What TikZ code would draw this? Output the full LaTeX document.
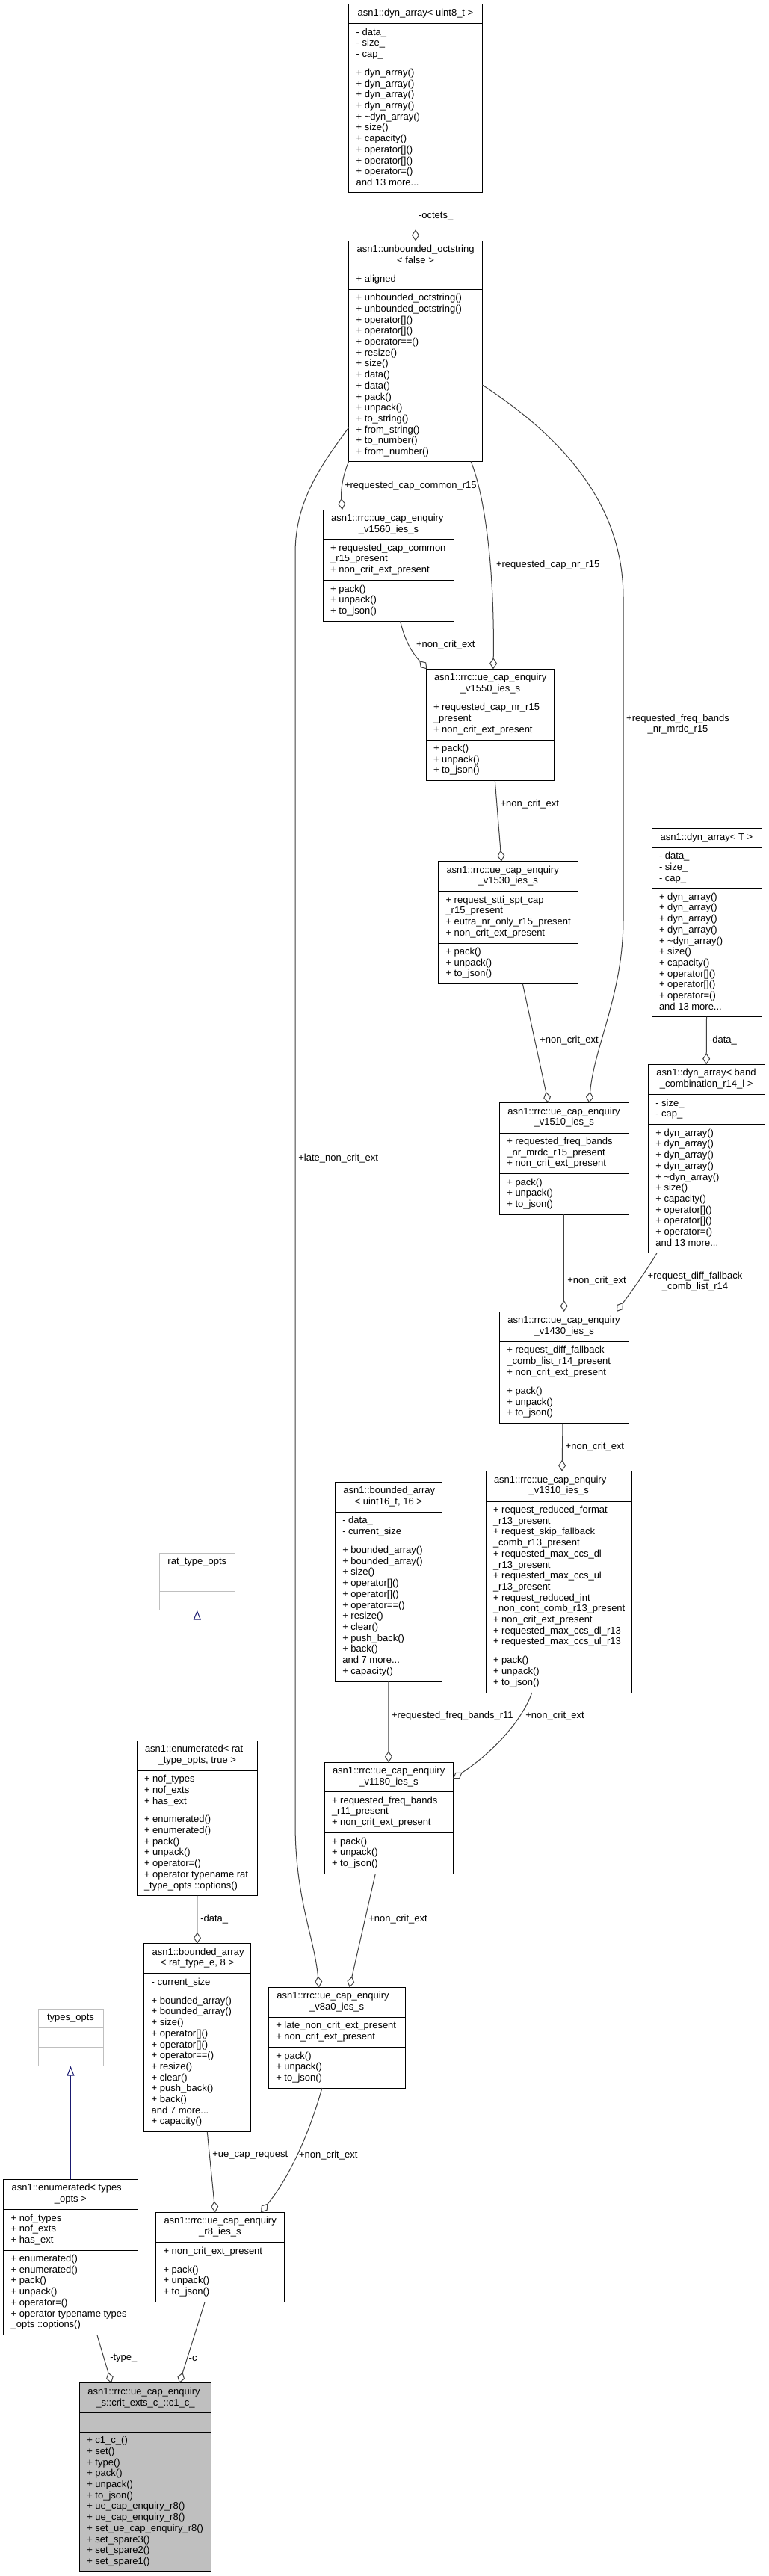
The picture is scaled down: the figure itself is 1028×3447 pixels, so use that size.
\documentclass[tikz,border=0pt]{standalone}
\usepackage{fontspec}
\setmainfont{Liberation Sans}
\usetikzlibrary{arrows.meta,calc}
\definecolor{edgegray}{HTML}{404040}
\definecolor{navyline}{HTML}{191970}
\definecolor{boxgray}{HTML}{BFBFBF}
\definecolor{lightborder}{HTML}{BFBFBF}
\tikzset{
  clsbox/.style={draw=black,fill=white,line width=1pt,inner sep=0pt,outer sep=0pt,anchor=north west},
  divline/.style={draw=black,line width=1pt},
  txt/.style={inner sep=0pt,outer sep=0pt,font=\fontsize{13pt}{14.7pt}\selectfont,align=left},
  agg/.style={draw=edgegray,line width=1pt,-{Diamond[open,length=15pt,width=10pt]}},
  inh/.style={draw=navyline,line width=1pt,-{Triangle[open,length=13pt,width=10pt]}},
  elabel/.style={txt,anchor=west},
}
% \cls{name}(L,T,R,B,headerBottom,attrBottom){header line 1}{header line 2}{attrs}{methods}{style}
\def\cls#1(#2,#3,#4,#5,#6,#7)#8#9{%
  \def\cN{#1}\def\cL{#2}\def\cT{#3}\def\cR{#4}\def\cB{#5}\def\cH{#6}\def\cA{#7}%
  \def\cHa{#8}\def\cHb{#9}\clsrest}
\def\clsrest#1#2#3{%
  \node[clsbox,#3,minimum width={(\cR-\cL)*1pt},minimum height={(\cB-\cT)*1pt}] (\cN) at (\cL,\cT) {};
  \draw[divline,#3] (\cL,\cH) -- (\cR,\cH);
  \draw[divline,#3] (\cL,\cA) -- (\cR,\cA);
  \ifx\cHb\empty
    \node[txt,anchor=north] at ({(\cL+\cR)/2},\cT+5.2) {\strut\cHa};
  \else
    \node[txt,anchor=north west] at (\cL+11,\cT+5.2) {\strut\cHa};
    \node[txt,anchor=north] at ({(\cL+\cR)/2},\cT+19.9) {\strut\cHb};
  \fi
  \node[txt,anchor=north west] at (\cL+10,\cH+5.2) {\strut#1};
  \node[txt,anchor=north west] at (\cL+10,\cA+5.2) {\strut#2};
}
\def\dynmethods{+ dyn\_array()\\+ dyn\_array()\\+ dyn\_array()\\+ dyn\_array()\\+ \textasciitilde dyn\_array()\\+ size()\\+ capacity()\\+ operator[]()\\+ operator[]()\\+ operator=()\\and 13 more...}
\def\bamethods{+ bounded\_array()\\+ bounded\_array()\\+ size()\\+ operator[]()\\+ operator[]()\\+ operator==()\\+ resize()\\+ clear()\\+ push\_back()\\+ back()\\and 7 more...\\+ capacity()}
\def\pum{+ pack()\\+ unpack()\\+ to\_json()}
\def\uce{asn1::rrc::ue\_cap\_enquiry}
\begin{document}
\begin{tikzpicture}[x=1pt,y=-1pt]
\useasboundingbox (0,0) rectangle (1028,3447);
\fill[white] (0,0) rectangle (1028,3447);

% ---------- classes ----------
\cls{dynU8}(466.7,5.7,645.3,257.7,31.7,86){asn1::dyn\_array< uint8\_t >}{}
  {- data\_\\- size\_\\- cap\_}{\dynmethods}{}
\cls{uoct}(466.7,322.3,645.3,617.3,362.3,387.3){asn1::unbounded\_octstring}{< false >}
  {+ aligned}
  {+ unbounded\_octstring()\\+ unbounded\_octstring()\\+ operator[]()\\+ operator[]()\\+ operator==()\\+ resize()\\+ size()\\+ data()\\+ data()\\+ pack()\\+ unpack()\\+ to\_string()\\+ from\_string()\\+ to\_number()\\+ from\_number()}{}
\cls{v1560}(432.2,682,607.9,831,721.7,776.7){\uce}{\_v1560\_ies\_s}
  {+ requested\_cap\_common\\\_r15\_present\\+ non\_crit\_ext\_present}{\pum}{}
\cls{v1550}(570,895.3,741.9,1044.3,935.3,990){\uce}{\_v1550\_ies\_s}
  {+ requested\_cap\_nr\_r15\\\_present\\+ non\_crit\_ext\_present}{\pum}{}
\cls{v1530}(586.5,1152.7,773.2,1316.7,1192.7,1262){\uce}{\_v1530\_ies\_s}
  {+ request\_stti\_spt\_cap\\\_r15\_present\\+ eutra\_nr\_only\_r15\_present\\+ non\_crit\_ext\_present}{\pum}{}
\cls{dynT}(872,1108.7,1019,1360.7,1134.3,1188.7){asn1::dyn\_array< T >}{}
  {- data\_\\- size\_\\- cap\_}{\dynmethods}{}
\cls{v1510}(668.3,1475.7,841,1625.3,1516,1570.7){\uce}{\_v1510\_ies\_s}
  {+ requested\_freq\_bands\\\_nr\_mrdc\_r15\_present\\+ non\_crit\_ext\_present}{\pum}{}
\cls{dynBand}(867.3,1424.3,1023,1676.7,1464.7,1504.7){asn1::dyn\_array< band}{\_combination\_r14\_l >}
  {- size\_\\- cap\_}{\dynmethods}{}
\cls{v1430}(668.3,1755,841,1904.7,1795.3,1850){\uce}{\_v1430\_ies\_s}
  {+ request\_diff\_fallback\\\_comb\_list\_r14\_present\\+ non\_crit\_ext\_present}{\pum}{}
\cls{v1310}(650,1968.7,845.7,2265,2009,2210.3){\uce}{\_v1310\_ies\_s}
  {+ request\_reduced\_format\\\_r13\_present\\+ request\_skip\_fallback\\\_comb\_r13\_present\\+ requested\_max\_ccs\_dl\\\_r13\_present\\+ requested\_max\_ccs\_ul\\\_r13\_present\\+ request\_reduced\_int\\\_non\_cont\_comb\_r13\_present\\+ non\_crit\_ext\_present\\+ requested\_max\_ccs\_dl\_r13\\+ requested\_max\_ccs\_ul\_r13}{\pum}{}
\cls{bArr16}(448.3,1983.3,591.3,2250,2023.3,2063){asn1::bounded\_array}{< uint16\_t, 16 >}
  {- data\_\\- current\_size}{\bamethods}{}
\cls{ratopts}(213,2078.3,314.7,2154.7,2103.7,2129.3){rat\_type\_opts}{}
  {}{}{draw=lightborder}
\cls{enumRat}(183,2329.3,344.7,2536.7,2369.3,2423.3){asn1::enumerated< rat}{\_type\_opts, true >}
  {+ nof\_types\\+ nof\_exts\\+ has\_ext}
  {+ enumerated()\\+ enumerated()\\+ pack()\\+ unpack()\\+ operator=()\\+ operator typename rat\\\_type\_opts ::options()}{}
\cls{v1180}(434,2358.3,606,2507.3,2397.7,2452.7){\uce}{\_v1180\_ies\_s}
  {+ requested\_freq\_bands\\\_r11\_present\\+ non\_crit\_ext\_present}{\pum}{}
\cls{bArrRat}(192.7,2600.7,335.3,2852.7,2640.7,2665.7){asn1::bounded\_array}{< rat\_type\_e, 8 >}
  {- current\_size}{\bamethods}{}
\cls{v8a0}(359.3,2659.3,542,2794,2699.3,2739.7){\uce}{\_v8a0\_ies\_s}
  {+ late\_non\_crit\_ext\_present\\+ non\_crit\_ext\_present}{\pum}{}
\cls{typesopts}(51,2688.3,138,2764.7,2713.7,2739.3){types\_opts}{}
  {}{}{draw=lightborder}
\cls{enumTypes}(4.7,2916.4,184,3124.7,2956.5,3011){asn1::enumerated< types}{\_opts >}
  {+ nof\_types\\+ nof\_exts\\+ has\_ext}
  {+ enumerated()\\+ enumerated()\\+ pack()\\+ unpack()\\+ operator=()\\+ operator typename types\\\_opts ::options()}{}
\cls{r8}(208.5,2960.3,380.3,3080.7,3000.7,3025.7){\uce}{\_r8\_ies\_s}
  {+ non\_crit\_ext\_present}{\pum}{}
\cls{c1}(106.3,3188.9,282.7,3440.8,3228.3,3254.2){\uce}{\_s::crit\_exts\_c\_::c1\_c\_}
  {}{+ c1\_c\_()\\+ set()\\+ type()\\+ pack()\\+ unpack()\\+ to\_json()\\+ ue\_cap\_enquiry\_r8()\\+ ue\_cap\_enquiry\_r8()\\+ set\_ue\_cap\_enquiry\_r8()\\+ set\_spare3()\\+ set\_spare2()\\+ set\_spare1()}{fill=boxgray}

% ---------- connectors ----------
\draw[agg] (dynU8.south) -- (uoct.north);
\node[elabel] at (560,289.3) {-octets\_};

\draw[agg] (uoct.south west) .. controls (457,640) and (456,660) .. ($(v1560.north west)+(25.8,0)$);
\node[elabel] at (461,650) {+requested\_cap\_common\_r15};

\draw[agg] ($(uoct.south west)+(163.3,0)$) .. controls (648,660) and (662,760) .. ($(v1550.north west)+(90,0)$);
\node[elabel] at (664,756) {+requested\_cap\_nr\_r15};

\draw[agg] ($(uoct.north east)+(0,192.7)$) .. controls (760,590) and (834,680) .. (834,800) -- (834,1230) .. controls (834,1330) and (795,1400) .. ($(v1510.north west)+(120,0)$);
\node[txt,align=center] at (907,969) {+requested\_freq\_bands\\\_nr\_mrdc\_r15};

\draw[agg] ($(v1560.south west)+(103.4,0)$) .. controls (541,855) and (550,872) .. ($(v1550.north west)+(1.5,0)$);
\node[elabel] at (557,862.7) {+non\_crit\_ext};

\draw[agg] ($(v1550.south west)+(92.3,0)$) -- ($(v1530.north west)+(84.5,0)$);
\node[elabel] at (669.5,1075.7) {+non\_crit\_ext};

\draw[agg] ($(v1530.south west)+(112.9,0)$) -- ($(v1510.north west)+(65.4,0)$);
\node[elabel] at (722.3,1391.7) {+non\_crit\_ext};

\draw[agg] (dynT.south) -- (dynBand.north);
\node[elabel] at (949,1391.7) {-data\_};

\draw[agg] (v1510.south) -- (v1430.north);
\node[elabel] at (759.3,1714.3) {+non\_crit\_ext};

\draw[agg] ($(dynBand.south west)+(11.7,0)$) .. controls (862,1705) and (845,1728) .. ($(v1430.north west)+(156.7,0)$);
\node[txt,align=center] at (930,1715) {+request\_diff\_fallback\\\_comb\_list\_r14};

\draw[agg] ($(v1430.south west)+(84.7,0)$) -- ($(v1310.north west)+(102,0)$);
\node[elabel] at (756.7,1935.7) {+non\_crit\_ext};

\draw[agg] (bArr16.south) -- (v1180.north);
\node[elabel] at (524,2295.7) {+requested\_freq\_bands\_r11};

\draw[agg] ($(v1310.south west)+(61.7,0)$) .. controls (700,2300) and (660,2345) .. ($(v1180.north east)+(0,21.7)$);
\node[elabel] at (703.3,2295.7) {+non\_crit\_ext};

\draw[agg] ($(uoct.north west)+(0,249.7)$) .. controls (430,622) and (395,670) .. (395,740) -- (395,2440) .. controls (395,2540) and (420,2590) .. ($(v8a0.north west)+(67.7,0)$);
\node[elabel] at (399.3,1550) {+late\_non\_crit\_ext};

\draw[agg] (enumRat.south) -- (bArrRat.north);
\node[elabel] at (268.3,2567.7) {-data\_};

\draw[agg] ($(v1180.south west)+(68.3,0)$) -- ($(v8a0.north west)+(108.4,0)$);
\node[elabel] at (493.3,2567.7) {+non\_crit\_ext};

\draw[agg] ($(bArrRat.south west)+(84.6,0)$) -- ($(r8.north west)+(79.5,0)$);
\node[elabel] at (284.3,2883.7) {+ue\_cap\_request};

\draw[agg] ($(v8a0.south west)+(71.7,0)$) .. controls (415,2850) and (390,2910) .. ($(r8.north west)+(140.5,0)$);
\node[elabel] at (400,2883.7) {+non\_crit\_ext};

\draw[agg] ($(enumTypes.south west)+(125.3,0)$) -- ($(c1.north west)+(42.7,0)$);
\node[elabel] at (147.3,3155.8) {-type\_};

\draw[agg] ($(r8.south west)+(65.5,0)$) -- ($(c1.north west)+(133.7,0)$);
\node[elabel] at (252.7,3155.8) {-c};

\draw[inh] (enumRat.north) -- (ratopts.south);
\draw[inh] (enumTypes.north) -- (typesopts.south);
\end{tikzpicture}
\end{document}
